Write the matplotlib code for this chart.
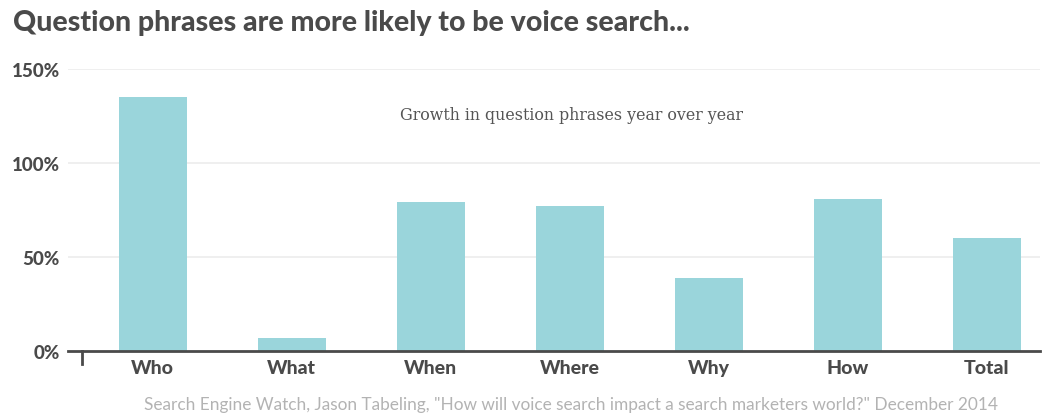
import matplotlib.pyplot as plt
import numpy as np

categories = ["Who", "What", "When", "Where", "Why", "How", "Total"]
growth = [135, 7, 79, 77, 39, 81, 60]
yticks = [0, 50, 100, 150]

BAR_COLOR = "#9ad5db"
DARK = "#4a4a4a"

fig = plt.figure(figsize=(10.46, 4.14), dpi=100)
ax = fig.add_axes([0.065, 0.15, 0.929, 0.681])

x = np.arange(len(categories))
ax.bar(x, growth, width=0.49, color=BAR_COLOR, zorder=2)

ax.set_xlim(-0.61, 6.38)
ax.set_ylim(0, 150)
ax.set_yticks(yticks)
ax.set_yticklabels(["{}%".format(v) for v in yticks], fontsize=13.5,
                   fontweight=900, color=DARK, family="Lato")
ax.set_xticks(x)
ax.set_xticklabels(categories, fontsize=14, fontweight=900,
                   color=DARK, family="Lato")
ax.tick_params(axis="both", length=0, pad=5.5)
ax.tick_params(axis="y", pad=6)

for v in yticks[1:]:
    ax.axhline(v, color="#ececec", lw=1.2, zorder=1)

for s in ["top", "right", "left"]:
    ax.spines[s].set_visible(False)
ax.spines["bottom"].set_color(DARK)
ax.spines["bottom"].set_linewidth(2)
ax.spines["bottom"].set_zorder(3)
# small tick mark at the left end of the axis
ax.plot([-0.51, -0.51], [0, -7], color=DARK, lw=2, clip_on=False)

ax.text(0.518, 0.84, "Growth in question phrases year over year",
        transform=ax.transAxes, ha="center", va="center",
        fontsize=11.4, color="#555555", family="DejaVu Serif")

fig.text(0.012, 0.945, "Question phrases are more likely to be voice search...",
         fontsize=20.5, fontweight=900, color=DARK, family="Lato",
         va="center", ha="left")

fig.text(0.546, 0.021,
         'Search Engine Watch, Jason Tabeling, "How will voice search impact a search marketers world?" December 2014',
         fontsize=12.4, color="#b3b3b3", family="Lato", ha="center", va="center")

fig.savefig("out.png", dpi=100, facecolor="white")
